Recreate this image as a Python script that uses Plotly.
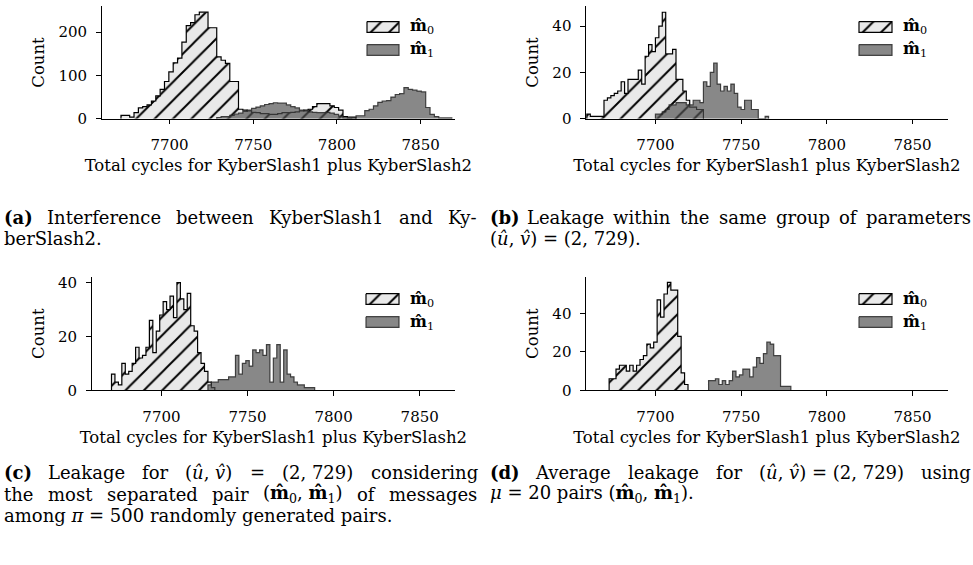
import re
import plotly.graph_objects as go

W, H = 973, 565
FONT = "DejaVu Serif, Liberation Serif, serif"

# ---------------- data ----------------
X_RANGE = [7659.5, 7870.5]
X_TICKS = [7700, 7750, 7800, 7850]
X_TITLE = "Total cycles for KyberSlash1 plus KyberSlash2"
Y_TITLE = "Count"

# (a) interference
A_BIN_START = 7671.0
A_BIN_WIDTH = 2.6
A_M0 = [8, 8, 4, 14, 25, 28, 32, 41, 53, 68, 86, 108, 129, 140, 177, 215, 222, 240, 246, 246,
        210, 210, 143, 135, 128, 86, 86, 22, 20, 18, 15, 14, 12, 12, 10, 10, 12, 14, 14, 15,
        16, 18, 20, 22, 28, 35, 35, 35, 30, 26, 20, 5, 4, 4, 0, 0, 0, 0, 0, 0,
        0, 0, 0, 0, 0, 0, 0, 0, 0, 0, 0, 0, 0, 0, 0, 0]
A_M1 = [0, 0, 0, 0, 0, 0, 0, 0, 0, 0, 0, 0, 0, 0, 0, 0, 0, 0, 0, 0,
        0, 0, 3, 5, 5, 8, 11, 13, 17, 20, 24, 27, 30, 33, 35, 37, 36, 36, 32, 28,
        25, 20, 18, 16, 15, 14, 14, 15, 13, 10, 6, 2, 1, 2, 7, 7, 19, 22, 30, 38,
        41, 42, 50, 56, 58, 72, 68, 66, 64, 62, 26, 10, 5, 2, 2, 2]
A_Y_RANGE = [0, 259.6]
A_Y_TICKS = [0, 100, 200]

# (b) same group of parameters
B_BIN_START = 7660.0
B_BIN_WIDTH = 2.0
B_M0 = [2, 1, 1, 1, 1, 8, 9, 10, 11, 12, 16, 11, 17, 17, 17, 21, 15, 27, 32, 29,
        35, 40, 46, 28, 28, 30, 17, 17, 12, 8, 5, 5, 4, 4]
B_M1 = [0, 0, 0, 0, 0, 0, 0, 0, 0, 0, 0, 0, 0, 0, 0, 0, 0, 0, 0, 0,
        2, 2, 3, 4, 6, 6, 7, 7, 7, 6, 6, 8, 8, 7, 16, 14, 20, 24, 15, 12,
        14, 12, 15, 11, 5, 4, 8, 8, 4, 4, 0, 0, 1]
B_Y_RANGE = [0, 48.6]
B_Y_TICKS = [0, 20, 40]

# (c) most separated pair
C_BIN_START = 7671.0
C_BIN_WIDTH = 2.0
C_M0 = [6, 3, 2, 10, 6, 7, 10, 16, 12, 13, 16, 26, 14, 22, 28, 33, 30, 35, 27, 40,
        34, 30, 36, 24, 22, 14, 10, 7, 3, 1]
C_M1 = [0, 0, 0, 0, 0, 0, 0, 0, 0, 0, 0, 0, 0, 0, 0, 0, 0, 0, 0, 0,
        0, 0, 0, 0, 0, 0, 0, 0, 2, 3, 3, 4, 4, 4, 5, 5, 13, 6, 10, 11,
        9, 15, 14, 15, 13, 17, 3, 12, 17, 3, 15, 6, 5, 3, 2, 2, 1, 1, 1]
C_Y_RANGE = [0, 42.1]
C_Y_TICKS = [0, 20, 40]

# (d) average over 20 pairs
D_BIN_START = 7673.0
D_BIN_WIDTH = 2.0
D_M0 = [6, 6, 11, 13, 13, 10, 13, 10, 13, 16, 18, 24, 22, 25, 47, 38, 50, 56, 52, 52,
        28, 9, 3]
D_M1 = [0, 0, 0, 0, 0, 0, 0, 0, 0, 0, 0, 0, 0, 0, 0, 0, 0, 0, 0, 0,
        0, 0, 0, 0, 0, 0, 0, 0, 0, 5, 5, 6, 3, 5, 3, 5, 10, 7, 8, 11,
        11, 7, 12, 17, 14, 19, 25, 24, 18, 18, 2, 2, 2]
D_Y_RANGE = [0, 58.8]
D_Y_TICKS = [0, 20, 40]

SERIES_NAMES = ["<b>m\u0302</b><sub>0</sub>", "<b>m\u0302</b><sub>1</sub>"]

# captions: "~" marks a space that is not stretched when justifying
UV = "(<i>\u00fb</i>,~<i>v\u0302</i>)"
M01 = "(<b>m\u0302</b><sub>0</sub>,~<b>m\u0302</b><sub>1</sub>)"
CAPTIONS_A = [("<b>(a)</b> Interference between KyberSlash1 and Ky-", True), ("berSlash2.", False)]
CAPTIONS_B = [("<b>(b)</b> Leakage within the same group of parameters", True),
              (UV + "~=~(2,~729).", False)]
CAPTIONS_C = [("<b>(c)</b> Leakage for " + UV + " = (2,~729) considering", True),
              ("the most separated pair " + M01 + " of messages", True),
              ("among <i>\u03c0</i>~=~500 randomly generated pairs.", False)]
CAPTIONS_D = [("<b>(d)</b> Average leakage for " + UV + "~=~(2,~729) using", True),
              ("<i>\u03bc</i>~=~20 pairs " + M01 + ".", False)]

# ---------------- layout (pixels) ----------------
PANELS = [
    dict(box=(101.7, 455.0, 3.3, 118.3), start=A_BIN_START, width=A_BIN_WIDTH, m0=A_M0, m1=A_M1,
         yr=A_Y_RANGE, yt=A_Y_TICKS, leg=(367, 399, 19, 42.5)),
    dict(box=(586.0, 947.7, 3.3, 118.3), start=B_BIN_START, width=B_BIN_WIDTH, m0=B_M0, m1=B_M1,
         yr=B_Y_RANGE, yt=B_Y_TICKS, leg=(859, 892, 19, 42.5)),
    dict(box=(91.7, 455.0, 280.0, 395.7), start=C_BIN_START, width=C_BIN_WIDTH, m0=C_M0, m1=C_M1,
         yr=C_Y_RANGE, yt=C_Y_TICKS, leg=(366, 399, 297, 320.5)),
    dict(box=(586.0, 947.7, 280.0, 395.7), start=D_BIN_START, width=D_BIN_WIDTH, m0=D_M0, m1=D_M1,
         yr=D_Y_RANGE, yt=D_Y_TICKS, leg=(859, 892, 297, 320.5)),
]
PATCH_H = 11
CAPTIONS = [
    (3, 477, 219, CAPTIONS_A), (489, 970, 219, CAPTIONS_B),
    (3, 477, 480, CAPTIONS_C), (489, 970, 480, CAPTIONS_D),
]
CAPTION_LINE = 22
CAPTION_SIZE = 18
TICK_SIZE = 15
TITLE_SIZE = 16.5
LEGEND_SIZE = 16

M0_LINE = "black"
M0_BG = "#e9e9e9"
M1_FILL = "rgba(80,80,80,0.68)"
M1_LINE = "rgba(40,40,40,0.85)"
HATCH = dict(shape="/", size=13, solidity=0.15, fgcolor="black", bgcolor=M0_BG, fillmode="replace")

# approximate DejaVu Serif advance widths (1/1000 em), used to spread justified caption words
TW = {" ": 318, "(": 390, ")": 390, ",": 318, ".": 318, "-": 361, "=": 838, "~": 318,
      "\u00fb": 646, "\u0302": 0, "\u03c0": 640, "\u03bc": 650}
for ch, w in zip("abcdefghijklmnopqrstuvwxyz",
                 [596, 642, 560, 642, 592, 368, 642, 646, 320, 315, 608, 320, 962, 646, 602, 642,
                  642, 478, 513, 402, 646, 566, 847, 566, 566, 526]):
    TW[ch] = w
for ch, w in zip("ABCDEFGHIJKLMNOPQRSTUVWXYZ",
                 [724, 702, 735, 774, 697, 654, 781, 839, 398, 398, 733, 651, 980, 831, 802, 661,
                  802, 722, 648, 688, 806, 724, 1046, 724, 685, 670]):
    TW[ch] = w
for ch in "0123456789":
    TW[ch] = 636


def text_width(s, size):
    total = 0.0
    scale = 1.0
    bold = 1.0
    for tok in re.split(r"(<[^>]+>)", s):
        if tok.startswith("<"):
            if tok == "<sub>":
                scale = 0.7
            elif tok == "</sub>":
                scale = 1.0
            elif tok == "<b>":
                bold = 1.1
            elif tok == "</b>":
                bold = 1.0
            continue
        for ch in tok:
            total += TW.get(ch, 600) * scale * bold
    return total * size / 1000.0


def fx(px):
    return px / W


def fy(py):
    return 1 - py / H


def step_xy(start, width, counts):
    nz = [i for i, c in enumerate(counts) if c > 0]
    i0, i1 = nz[0], nz[-1]
    xs = [start + i0 * width]
    ys = [0]
    for i in range(i0, i1 + 1):
        xs.append(start + i * width)
        ys.append(counts[i])
    xs.append(start + (i1 + 1) * width)
    ys.append(counts[i1])
    xs.append(start + (i1 + 1) * width)
    ys.append(0)
    return xs, ys


fig = go.Figure()
layout = dict(width=W, height=H, margin=dict(l=0, r=0, t=0, b=0),
              paper_bgcolor="white", plot_bgcolor="white", showlegend=False)
annotations = []

axis_common = dict(showgrid=False, zeroline=False, showline=True, linecolor="black", linewidth=1.1,
                   ticks="outside", ticklen=4.5, tickwidth=1, tickcolor="black",
                   tickfont=dict(family=FONT, size=TICK_SIZE, color="black"), fixedrange=True)

for n, p in enumerate(PANELS):
    k = n + 1
    xid = "x" if k == 1 else f"x{k}"
    yid = "y" if k == 1 else f"y{k}"
    l, r, t, b = p["box"]
    x0, y0 = step_xy(p["start"], p["width"], p["m0"])
    x1, y1 = step_xy(p["start"], p["width"], p["m1"])
    fig.add_trace(go.Scatter(x=x0, y=y0, mode="lines", line=dict(shape="hv", color=M0_LINE, width=1.2),
                             fill="tozeroy", fillcolor=M0_BG, fillpattern=HATCH,
                             xaxis=xid, yaxis=yid, hoverinfo="skip"))
    fig.add_trace(go.Scatter(x=x1, y=y1, mode="lines", line=dict(shape="hv", color=M1_LINE, width=1.2),
                             fill="tozeroy", fillcolor=M1_FILL,
                             xaxis=xid, yaxis=yid, hoverinfo="skip"))
    layout["xaxis" if k == 1 else f"xaxis{k}"] = dict(
        axis_common, domain=[fx(l), fx(r)], range=X_RANGE, tickvals=X_TICKS, anchor=yid,
        ticklabelstandoff=8,
        title=dict(text=X_TITLE, font=dict(family=FONT, size=TITLE_SIZE, color="black"), standoff=6))
    layout["yaxis" if k == 1 else f"yaxis{k}"] = dict(
        axis_common, domain=[fy(b), fy(t)], range=p["yr"], tickvals=p["yt"], anchor=xid,
        ticklabelstandoff=6,
        title=dict(text=Y_TITLE, font=dict(family=FONT, size=TITLE_SIZE, color="black"), standoff=9))

    # legend keys drawn in a small helper axis
    lx0, lx1, r0, r1 = p["leg"]
    lk = k + 4
    lxid, lyid = f"x{lk}", f"y{lk}"
    pad = 2
    layout[f"xaxis{lk}"] = dict(domain=[fx(lx0 - pad), fx(lx1 + pad)], range=[lx0 - pad, lx1 + pad],
                                visible=False, anchor=lyid, fixedrange=True)
    layout[f"yaxis{lk}"] = dict(domain=[fy(r1 + PATCH_H + pad), fy(r0 - pad)],
                                range=[r1 + PATCH_H + pad, r0 - pad],
                                visible=False, anchor=lxid, fixedrange=True)
    for j, top in enumerate([r0, r1]):
        rx = [lx0, lx1, lx1, lx0, lx0]
        ry = [top, top, top + PATCH_H, top + PATCH_H, top]
        if j == 0:
            fig.add_trace(go.Scatter(x=rx, y=ry, mode="lines", fill="toself", fillcolor=M0_BG,
                                     fillpattern=HATCH, line=dict(color=M0_LINE, width=1.2),
                                     xaxis=lxid, yaxis=lyid, hoverinfo="skip"))
        else:
            fig.add_trace(go.Scatter(x=rx, y=ry, mode="lines", fill="toself", fillcolor=M1_FILL,
                                     line=dict(color=M1_LINE, width=1.2),
                                     xaxis=lxid, yaxis=lyid, hoverinfo="skip"))
        annotations.append(dict(x=fx(lx1 + 10), y=fy(top + PATCH_H / 2), xref="paper", yref="paper",
                                text=SERIES_NAMES[j], showarrow=False, xanchor="left", yanchor="middle",
                                borderpad=0, font=dict(family=FONT, size=LEGEND_SIZE, color="black")))

for left, right, cy, lines in CAPTIONS:
    for i, (txt, justify) in enumerate(lines):
        y = fy(cy + i * CAPTION_LINE)
        words = txt.split(" ")
        if justify and len(words) > 1:
            widths = [text_width(w, CAPTION_SIZE) for w in words]
            gap = (right - left - sum(widths)) / (len(words) - 1)
            pos = left
            for w, wd in zip(words, widths):
                annotations.append(dict(x=fx(pos), y=y, xref="paper", yref="paper",
                                        text=w.replace("~", " "), showarrow=False,
                                        xanchor="left", yanchor="middle", borderpad=0,
                                        font=dict(family=FONT, size=CAPTION_SIZE, color="black")))
                pos += wd + gap
        else:
            annotations.append(dict(x=fx(left), y=y, xref="paper", yref="paper",
                                    text=txt.replace("~", " "), showarrow=False,
                                    xanchor="left", yanchor="middle", borderpad=0,
                                    font=dict(family=FONT, size=CAPTION_SIZE, color="black")))

layout["annotations"] = annotations
fig.update_layout(**layout)
fig.write_html("out.html", config={"displayModeBar": False},
               post_script="document.body.style.margin='0px';document.body.style.overflow='hidden';")
